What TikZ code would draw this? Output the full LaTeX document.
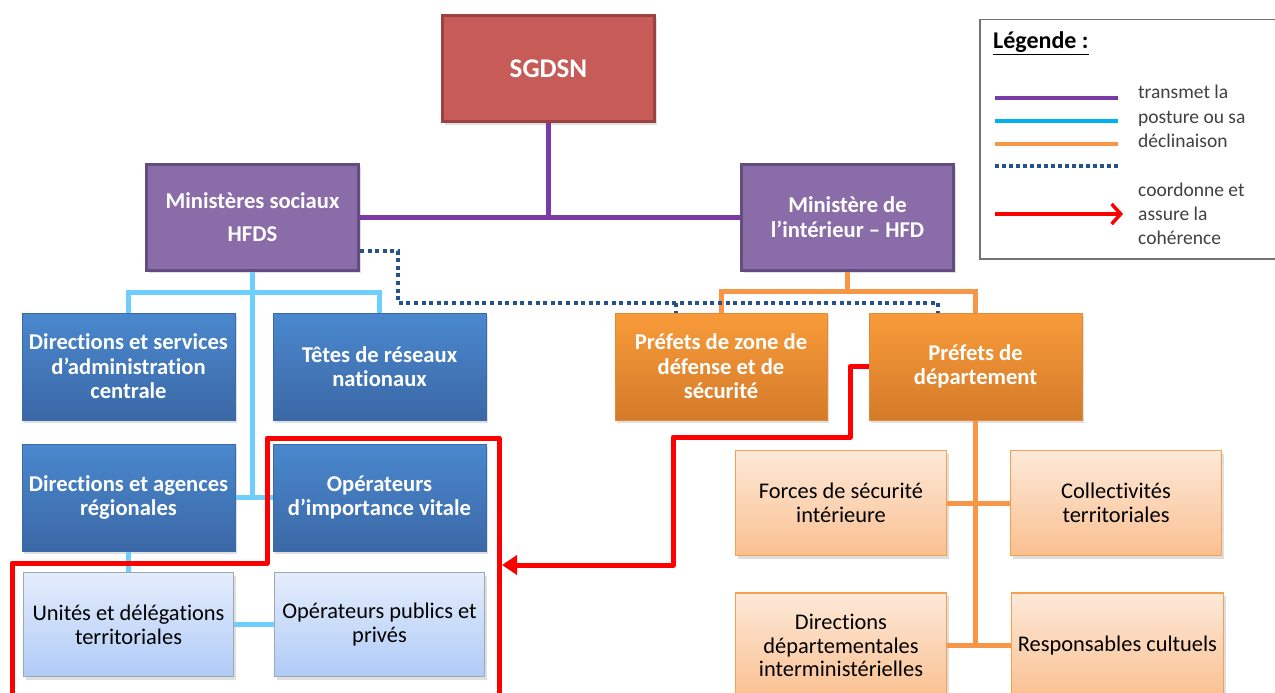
\documentclass[tikz,border=0pt]{standalone}
\usepackage{fontspec}
\setmainfont[Ligatures=NoCommon]{Carlito}
\usetikzlibrary{shadows,arrows.meta}
\definecolor{sgfill}{HTML}{C65B58}
\definecolor{sgdraw}{HTML}{9B4140}
\definecolor{pufill}{HTML}{8A6DA8}
\definecolor{pudraw}{HTML}{624C80}
\definecolor{blutop}{HTML}{4A88CE}
\definecolor{blubot}{HTML}{3B68A6}
\definecolor{bludraw}{HTML}{3A6BA8}
\definecolor{ortop}{HTML}{F99B3A}
\definecolor{orbot}{HTML}{D47B2A}
\definecolor{ordraw}{HTML}{E08A38}
\definecolor{lotop}{HTML}{FDE9D9}
\definecolor{lobot}{HTML}{FAC090}
\definecolor{lodraw}{HTML}{F7A050}
\definecolor{lbtop}{HTML}{E4EDFC}
\definecolor{lbbot}{HTML}{B0CBF7}
\definecolor{lbdraw}{HTML}{9EA7B4}
\definecolor{purplel}{HTML}{7A3BA6}
\definecolor{cyanl}{HTML}{6ECFFF}
\definecolor{cyanleg}{HTML}{00B0F0}
\definecolor{orangel}{HTML}{F79646}
\definecolor{dotl}{HTML}{24538A}
\definecolor{redl}{HTML}{FF0000}
\definecolor{legtxt}{HTML}{404040}
\begin{document}
\begin{tikzpicture}[x=1pt,y=-1pt,
  boxbase/.style={minimum width=212pt, minimum height=106pt, inner sep=0pt,
    align=center,
    drop shadow={opacity=0.25, shadow xshift=2pt, shadow yshift=-3pt}},
  boldtxt/.style={text=white, font={\fontsize{22.6}{24.5}\selectfont\bfseries}},
  regtxt/.style={text=black, font={\fontsize{22.4}{23.8}\selectfont}},
  sgbox/.style={boxbase, boldtxt, fill=sgfill, draw=sgdraw, line width=3pt,
    font={\fontsize{27}{30}\selectfont\bfseries}},
  pubox/.style={boxbase, boldtxt, fill=pufill, draw=pudraw, line width=3pt},
  blubox/.style={boxbase, boldtxt, top color=blutop, bottom color=blubot, draw=bludraw, line width=1pt},
  orbox/.style={boxbase, boldtxt, top color=ortop, bottom color=orbot, draw=ordraw, line width=1pt},
  lobox/.style={boxbase, regtxt, top color=lotop, bottom color=lobot, draw=lodraw, line width=1.5pt},
  lbbox/.style={boxbase, regtxt, top color=lbtop, bottom color=lbbot, draw=lbdraw, line width=1.5pt},
  puline/.style={draw=purplel, line width=5pt},
  cyline/.style={draw=cyanl, line width=5pt},
  orline/.style={draw=orangel, line width=5pt},
  dotline/.style={draw=dotl, line width=4pt, dash pattern=on 4pt off 3.6pt},
  redline/.style={draw=redl, line width=5pt, line join=round},
  legtext/.style={anchor=base west, inner sep=0pt, text=legtxt, font={\fontsize{19.5}{24}\selectfont}}
]
\useasboundingbox (0,0) rectangle (1275,693);

\node[sgbox, minimum width=212pt, minimum height=106pt] (sgdsn) at (548.5,68.5) {SGDSN};
\node[pubox, font={\fontsize{22.6}{33}\selectfont\bfseries}] (hfds) at (252.5,217) {Ministères sociaux\\HFDS};
\node[pubox] (hfdi) at (847.5,217) {Ministère de\\l’intérieur – HFD};

\draw[puline] (sgdsn.south) -- (sgdsn.south |- hfds.east);
\draw[puline] (hfds.east) -- (hfdi.west);

\node[blubox, minimum width=213pt, minimum height=107pt] (dsac) at (128.5,366.5) {Directions et services\\d’administration\\centrale};
\node[blubox, minimum width=213pt, minimum height=107pt] (trn) at (379.5,366.5) {Têtes de réseaux\\nationaux};
\node[blubox, minimum width=213pt, minimum height=107pt] (dar) at (128.5,497.5) {Directions et agences\\régionales};
\node[blubox, minimum width=213pt, minimum height=107pt] (oiv) at (379.5,497.5) {Opérateurs\\d’importance vitale};
\node[lbbox, minimum width=210pt, minimum height=104pt] (udt) at (128.5,624.5) {Unités et délégations\\territoriales};
\node[lbbox, minimum width=210pt, minimum height=104pt] (opp) at (379.5,624.5) {Opérateurs publics et\\privés};

\node[orbox, minimum width=212pt, minimum height=107pt] (pzds) at (721,366.5) {Préfets de zone de\\défense et de\\sécurité};
\node[orbox, minimum width=213pt, minimum height=107pt] (pd) at (975.5,366.5) {Préfets de\\département};

\node[lobox, minimum width=211pt, minimum height=105pt] (fsi) at (841,503) {Forces de sécurité\\intérieure};
\node[lobox, minimum width=211pt, minimum height=105pt] (ct) at (1116,503) {Collectivités\\territoriales};
\node[lobox, minimum width=211pt, minimum height=105pt] (ddi) at (841,645.5) {Directions\\départementales\\interministérielles};
\node[lobox, minimum width=212pt, minimum height=105pt] (rc) at (1117.5,645.5) {Responsables cultuels};

% light blue connectors
\draw[cyline] (hfds.south) -- (hfds.south |- dar.east);
\draw[cyline] (dar.east) -- (oiv.west);
\draw[cyline] (dsac.north) -- ++(0,-20) -| (trn.north);
\draw[cyline] (dar.south) -- (udt.north);
\draw[cyline] (udt.east) -- (opp.west);

% orange connectors
\draw[orline] (hfdi.south) -- ++(0,22);
\draw[orline] (pzds.north) -- ++(0,-21) -| (pd.north);
\draw[orline] (pd.south) -- (pd.south |- ddi.east);
\draw[orline] (fsi.east) -- (ct.west);
\draw[orline] (ddi.east) -- (rc.west);

% dotted connector
\coordinate (dA) at ([yshift=-33.5pt]hfds.east);
\coordinate (dB) at (398,303);
\coordinate (dC) at ([xshift=-37.5pt]pd.north);
\coordinate (dD) at ([xshift=-45pt]pzds.north);
\draw[dotline] (dA) -| (dB) -| (dC);
\draw[dotline] (dD |- dB) -- (dD);

% red enclosure and arrow
\coordinate (e1) at (12,700);
\coordinate (e2) at (12,563);
\coordinate (e3) at (267,563);
\coordinate (e4) at (267,438);
\coordinate (e5) at (499,438);
\coordinate (e6) at (499,700);
\draw[redline] (e1) -- (e2) -- (e3) -- (e4) -- (e5) -- (e6);
\coordinate (rA) at (850,366.5);
\coordinate (rB) at (673,437);
\coordinate (rC) at (502,565);
\draw[redline, -{Triangle[length=15pt,width=19pt]}] (pd.west) -- (rA) |- (rB) |- (rC);

% legend
\node[draw=gray!90!black, line width=1.5pt, anchor=north west, minimum width=310pt, minimum height=239pt, inner sep=0pt] (leg) at (979,19) {};
\node[anchor=base west, inner sep=0pt, text=black, font={\fontsize{24}{26}\selectfont\bfseries}] (legt) at (993,49) {\underline{Légende :}};
\coordinate (l1a) at (995,98);  \coordinate (l1b) at (1118,98);
\coordinate (l2a) at (995,121); \coordinate (l2b) at (1118,121);
\coordinate (l3a) at (995,144); \coordinate (l3b) at (1118,144);
\coordinate (l4a) at (995,166); \coordinate (l4b) at (1121,166);
\coordinate (l5a) at (995,214); \coordinate (l5b) at (1123,214);
\draw[draw=purplel, line width=3.5pt] (l1a) -- (l1b);
\draw[draw=cyanleg, line width=3.5pt] (l2a) -- (l2b);
\draw[draw=orangel, line width=3.5pt] (l3a) -- (l3b);
\draw[draw=dotl, line width=3.5pt, dash pattern=on 3.5pt off 3.5pt] (l4a) -- (l4b);
\draw[draw=redl, line width=3.5pt, -{Straight Barb[length=9pt,width=20pt]}] (l5a) -- (l5b);
\node[legtext] (t1) at (1138,99) {transmet la};
\node[legtext] (t2) at (1138,123) {posture ou sa};
\node[legtext] (t3) at (1138,147) {déclinaison};
\node[legtext] (t4) at (1138,196) {coordonne et};
\node[legtext] (t5) at (1138,220) {assure la};
\node[legtext] (t6) at (1138,244) {cohérence};
\end{tikzpicture}
\end{document}
